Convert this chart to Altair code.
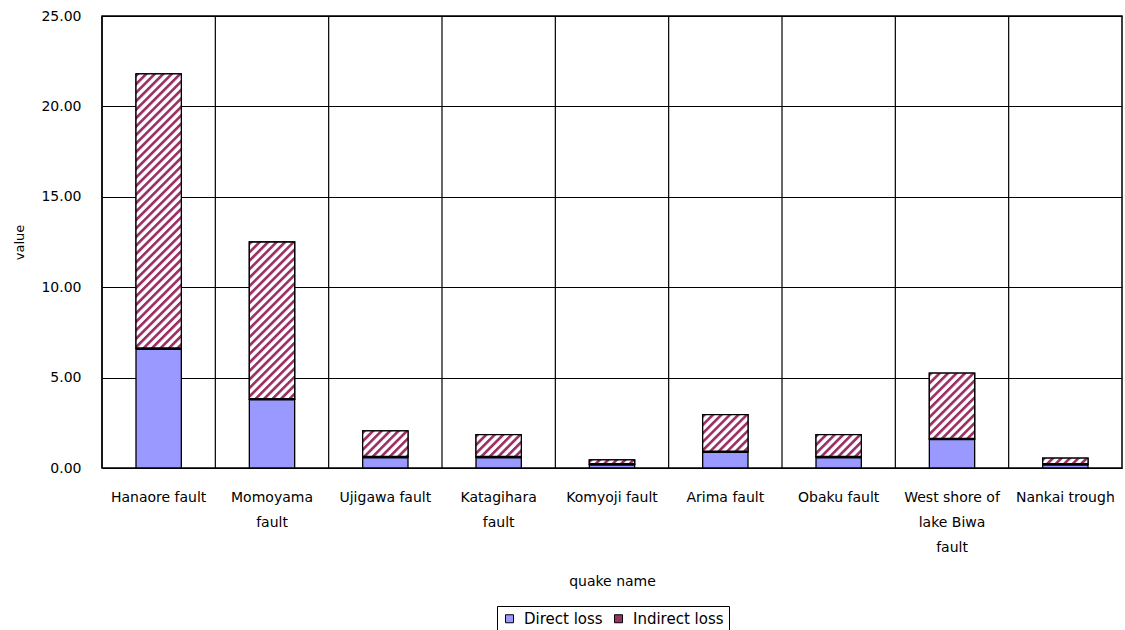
import urllib.parse
import altair as alt
import pandas as pd

quakes = ["Hanaore fault", "Momoyama fault", "Ujigawa fault", "Katagihara fault",
          "Komyoji fault", "Arima fault", "Obaku fault",
          "West shore of lake Biwa fault", "Nankai trough"]
label_lines = [["Hanaore fault"], ["Momoyama", "fault"], ["Ujigawa fault"],
               ["Katagihara", "fault"], ["Komyoji fault"], ["Arima fault"],
               ["Obaku fault"], ["West shore of", "lake Biwa", "fault"],
               ["Nankai trough"]]
direct_loss = [6.6, 3.8, 0.6, 0.6, 0.2, 0.9, 0.6, 1.6, 0.2]
indirect_loss = [15.2, 8.7, 1.45, 1.25, 0.25, 2.05, 1.25, 3.65, 0.35]
series = ["Direct loss", "Indirect loss"]
y_ticks = [0, 5, 10, 15, 20, 25]

FONT = "DejaVu Sans"
BLUE = "#9999FF"
MAROON = "#993366"

df = pd.DataFrame({"quake": quakes, "Direct loss": direct_loss, "Indirect loss": indirect_loss})

hatch_svg = (
    "<svg xmlns='http://www.w3.org/2000/svg' width='100%' height='100%'>"
    "<defs><pattern id='h' width='6' height='6' patternUnits='userSpaceOnUse' "
    "patternTransform='rotate(45)'><rect x='0' y='0' width='2.7' height='6' fill='#993366'/></pattern></defs>"
    "<rect x='0' y='0' width='100%' height='100%' fill='white'/>"
    "<rect x='0' y='0' width='100%' height='100%' fill='url(#h)'/></svg>"
)
hatch_url = "data:image/svg+xml;charset=utf-8," + urllib.parse.quote(hatch_svg)

expr_parts = []
for name, lines in zip(quakes, label_lines):
    arr = "[" + ",".join("'" + l + "'" for l in lines) + "]"
    expr_parts.append(f"datum.label == '{name}' ? {arr} : ")
label_expr = "".join(expr_parts) + "datum.label"

x_scale = alt.Scale(paddingInner=0, paddingOuter=0)
x_axis = alt.Axis(labelAngle=0, labelAlign="center", labelExpr=label_expr, ticks=False,
                  domain=False, grid=False,
                  labelFont=FONT, labelFontSize=14, labelColor="black", labelPadding=29,
                  labelLineHeight=25, labelBaseline="middle",
                  titleFont=FONT, titleFontSize=14, titleFontWeight="normal", titleColor="black",
                  titlePadding=20)
y_scale = alt.Scale(domain=[0, 25], nice=False)

base = alt.Chart(df)

bars = base.transform_fold(series, as_=["series", "value"]).mark_bar(
    width=alt.RelativeBandSize(0.4), stroke="black", strokeWidth=1.3
).encode(
    x=alt.X("quake:N", sort=quakes, title="quake name", scale=x_scale, axis=x_axis),
    y=alt.Y("value:Q", stack="zero", scale=y_scale, title="value",
            axis=alt.Axis(values=y_ticks, format=".2f", ticks=False, domain=False,
                          grid=True, gridColor="black", gridOpacity=1, gridWidth=1.2,
                          labelFont=FONT, labelFontSize=14, labelColor="black", labelPadding=21,
                          titleFont=FONT, titleFontSize=13, titleFontWeight="normal",
                          titleColor="black", titlePadding=14)),
    color=alt.Color("series:N", sort=series,
                    scale=alt.Scale(domain=series, range=[BLUE, MAROON]),
                    legend=alt.Legend(title=None, orient="none", direction="horizontal",
                                      legendX=395, legendY=590,
                                      symbolType="square", symbolSize=64,
                                      symbolStrokeColor="black", symbolStrokeWidth=1,
                                      labelFont=FONT, labelFontSize=15, labelColor="black",
                                      strokeColor="black", padding=5, columnPadding=8,
                                      labelOffset=7)),
    order=alt.Order("series:N", sort="ascending"),
)

grid_v = base.mark_rule(color="black", strokeWidth=1.2).encode(
    x=alt.X("quake:N", sort=quakes, bandPosition=0, scale=x_scale, title="quake name",
            axis=x_axis),
)

calc = base.transform_calculate(total="datum['Direct loss'] + datum['Indirect loss']")

hatch = calc.mark_image(width=alt.RelativeBandSize(0.4), aspect=False).encode(
    x=alt.X("quake:N", sort=quakes, scale=x_scale, title="quake name", axis=x_axis),
    y=alt.Y("Direct loss:Q", scale=y_scale),
    y2=alt.Y2("total:Q"),
    url=alt.value(hatch_url),
)

outline = calc.mark_bar(width=alt.RelativeBandSize(0.4), fillOpacity=0, stroke="black",
                        strokeWidth=1.3).encode(
    x=alt.X("quake:N", sort=quakes, scale=x_scale, title="quake name", axis=x_axis),
    y=alt.Y("Direct loss:Q", scale=y_scale),
    y2=alt.Y2("total:Q"),
)

boundary = base.mark_bar(width=alt.RelativeBandSize(0.4), fillOpacity=0, stroke="black",
                         strokeWidth=2.6).encode(
    x=alt.X("quake:N", sort=quakes, scale=x_scale, title="quake name", axis=x_axis),
    y=alt.Y("Direct loss:Q", scale=y_scale),
    y2=alt.Y2("Direct loss:Q"),
)

chart = alt.layer(bars, grid_v, hatch, outline, boundary).properties(
    width=1020, height=452,
    padding={"left": 102, "top": 16, "right": 3, "bottom": 162},
    autosize=alt.AutoSizeParams(type="none"),
    background="white",
).configure_view(stroke="black", strokeWidth=1.5)

chart.save("out.html", embed_options={"renderer": "svg", "actions": False})
